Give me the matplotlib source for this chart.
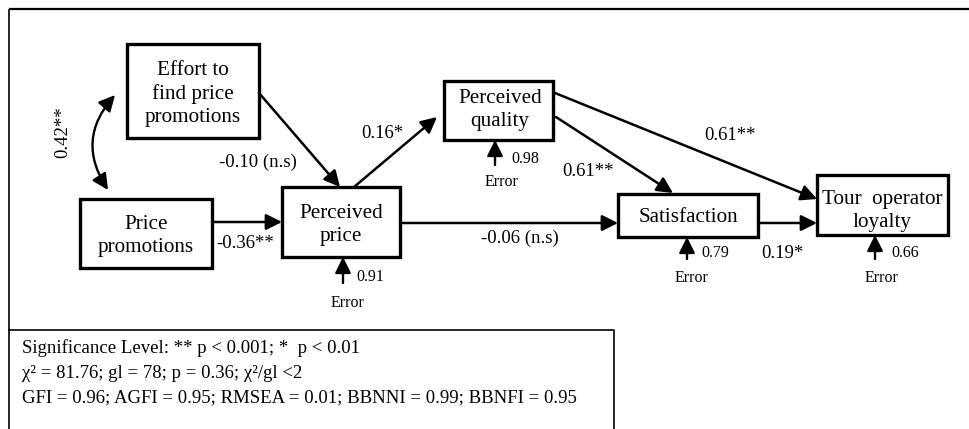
import matplotlib.pyplot as plt
from matplotlib.patches import Rectangle, FancyArrowPatch

plt.rcParams['font.family'] = ['Liberation Serif', 'DejaVu Serif']

# ---- data ----
nodes = ["Effort to\nfind price\npromotions", "Price\npromotions", "Perceived\nprice",
         "Perceived\nquality", "Satisfaction", "Tour  operator\nloyalty"]
# (from, to, coefficient)
paths = [(0, 2, "-0.10 (n.s)"), (1, 2, "-0.36**"), (2, 3, "0.16*"), (2, 4, "-0.06 (n.s)"),
         (3, 4, "0.61**"), (3, 5, "0.61**"), (4, 5, "0.19*")]
error_nodes = [2, 3, 4, 5]
error_values = ["0.91", "0.98", "0.79", "0.66"]
corr_label = "0.42**"
fit_lines = ["Significance Level: ** p < 0.001; *  p < 0.01",
             "\u03c7\u00b2 = 81.76; gl = 78; p = 0.36; \u03c7\u00b2/gl <2",
             "GFI = 0.96; AGFI = 0.95; RMSEA = 0.01; BBNNI = 0.99; BBNFI = 0.95"]

# ---- layout (pixel coords) ----
box_rect = [(127, 44, 259, 138), (80, 199, 212, 268), (282, 187, 400, 257),
            (444, 81, 553, 140), (618, 194, 758, 237), (817, 175, 948, 235)]
box_text = [(193, 94), (146, 236), (341, 225), (500, 110), (688, 217), (882, 211)]
path_pts = [((259, 93), (340, 187)), ((212, 222), (282, 222)), ((354, 187), (437, 117)),
            ((400, 223), (618, 223)), ((556, 117), (673, 193)), ((555, 93), (817, 199)),
            ((758, 223), (817, 223))]
path_lab = [(258, 162), (245, 243), (382, 133), (520, 238), (588, 172), (730, 135), (782, 253)]
err_x = [343, 495, 687, 875]
err_y = [(283, 257), (165, 140), (259, 237), (259, 235)]
err_val_pos = [(370, 277), (525, 159), (715, 253), (905, 253)]
err_lab_pos = [(348, 303), (502, 182), (692, 278), (882, 278)]

fig = plt.figure(figsize=(9.69, 4.29), dpi=100)
ax = fig.add_axes([0, 0, 1, 1])
ax.set_xlim(0, 969)
ax.set_ylim(429, 0)
ax.axis('off')


def arrow(p0, p1, lw=1.8, style='-|>,head_length=0.6,head_width=0.3', **kw):
    a = FancyArrowPatch(p0, p1, arrowstyle=style, mutation_scale=16, lw=lw,
                        color='black', shrinkA=0, shrinkB=0, **kw)
    ax.add_patch(a)


# outer frame and fit box
ax.plot([9, 969], [9, 9], color='black', lw=1.6, solid_capstyle='butt')
ax.plot([9, 9], [9, 429], color='black', lw=1.2, solid_capstyle='butt')
ax.plot([9, 614, 614], [330, 330, 429], color='black', lw=1.2)

for i, name in enumerate(nodes):
    x0, y0, x1, y1 = box_rect[i]
    ax.add_patch(Rectangle((x0, y0), x1 - x0, y1 - y0, fill=False, lw=2.4, ec='black'))
    ax.text(box_text[i][0], box_text[i][1], name, ha='center', va='center',
            fontsize=15.2, linespacing=1.3)

for k, (a, b, coef) in enumerate(paths):
    arrow(path_pts[k][0], path_pts[k][1])
    ax.text(path_lab[k][0], path_lab[k][1], coef, ha='center', va='center', fontsize=13.5)

for k, n in enumerate(error_nodes):
    arrow((err_x[k], err_y[k][0]), (err_x[k], err_y[k][1]), lw=1.7)
    ax.text(err_val_pos[k][0], err_val_pos[k][1], error_values[k], ha='center',
            va='center', fontsize=11.5)
    ax.text(err_lab_pos[k][0], err_lab_pos[k][1], "Error", ha='center', va='center',
            fontsize=11.5)

# correlation between exogenous variables
arrow((115, 95), (108, 190), lw=1.7, style='<|-|>,head_length=0.6,head_width=0.3',
      connectionstyle='arc3,rad=0.38')
ax.text(63, 132, corr_label, rotation=90, ha='center', va='center', fontsize=13.5)

for i, line in enumerate(fit_lines):
    ax.text(22, 348 + i * 25, line, ha='left', va='center', fontsize=13.5)

fig.savefig('out.png', dpi=100)
